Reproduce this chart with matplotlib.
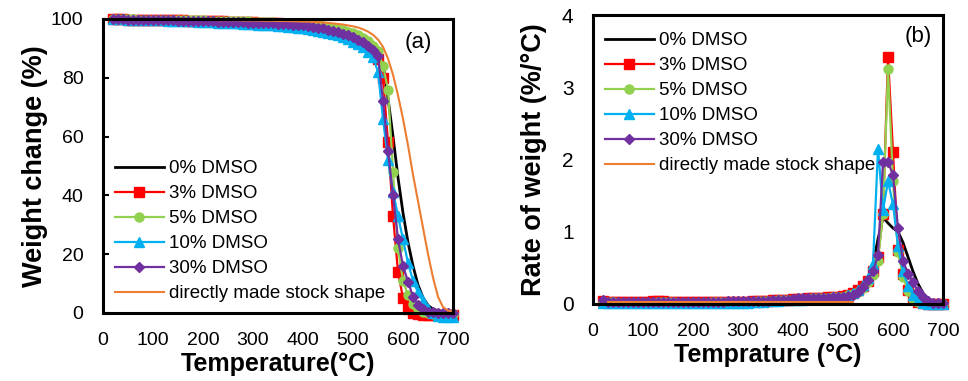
"""TGA weight loss and derivative curves for DMSO-treated samples."""

import matplotlib
matplotlib.use("Agg")
import matplotlib.pyplot as plt

plt.rcParams["font.family"] = ["Liberation Sans", "DejaVu Sans"]

# temperature grid (deg C)
temp = [20, 30, 40, 50, 60, 70, 80, 90, 100,
        110, 120, 130, 140, 150, 160, 170, 180, 190, 200,
        210, 220, 230, 240, 250, 260, 270, 280, 290, 300,
        310, 320, 330, 340, 350, 360, 370, 380, 390, 400,
        410, 420, 430, 440, 450, 460, 470, 480, 490, 500,
        510, 520, 530, 540, 550, 560, 570, 580, 590, 600,
        610, 620, 630, 640, 650, 660, 670, 680, 690, 700]
# stock-shape rate curve was only logged up to 520 deg C
temp_stock_rate = [30, 40, 50, 60, 70, 80, 90, 100,
                   110, 120, 130, 140, 150, 160, 170, 180, 190, 200,
                   210, 220, 230, 240, 250, 260, 270, 280, 290, 300,
                   310, 320, 330, 340, 350, 360, 370, 380, 390, 400,
                   410, 420, 430, 440, 450, 460, 470, 480, 490, 500,
                   510, 520]

labels = ["0% DMSO", "3% DMSO", "5% DMSO", "10% DMSO", "30% DMSO",
          "directly made stock shape"]

# (a) weight change (%)
w_0 = [100.0, 100.0, 99.9, 99.9, 99.9, 99.8, 99.8, 99.8, 99.8,
       99.7, 99.7, 99.7, 99.7, 99.6, 99.6, 99.6, 99.6, 99.5, 99.5,
       99.5, 99.5, 99.4, 99.4, 99.4, 99.3, 99.3, 99.3, 99.2, 99.2,
       99.1, 99.1, 99.0, 99.0, 98.9, 98.8, 98.8, 98.7, 98.6, 98.5,
       98.4, 98.2, 98.0, 97.8, 97.6, 97.3, 97.0, 96.6, 96.2, 95.7,
       95.1, 94.3, 93.2, 91.8, 89.5, 85.0, 73.0, 60.0, 46.0, 34.0,
       24.0, 16.0, 9.5, 5.2, 2.6, 1.3, 0.8, 0.5, 0.4, 0.3]
w_3 = [100.0, 99.9, 99.9, 99.8, 99.8, 99.8, 99.7, 99.7, 99.7,
       99.6, 99.6, 99.6, 99.5, 99.5, 99.5, 99.4, 99.4, 99.4, 99.3,
       99.3, 99.3, 99.2, 99.2, 99.1, 99.1, 99.0, 99.0, 98.9, 98.9,
       98.8, 98.7, 98.7, 98.6, 98.5, 98.4, 98.3, 98.2, 98.0, 97.9,
       97.7, 97.5, 97.2, 96.9, 96.6, 96.2, 95.7, 95.2, 94.6, 93.9,
       93.1, 92.1, 90.9, 89.2, 86.5, 80.0, 58.0, 33.0, 14.0, 5.0,
       1.5, 0.0, -0.5, -0.7, -0.7, -0.7, -0.7, -0.7, -0.7, -0.7]
w_5 = [100.0, 100.0, 99.9, 99.9, 99.9, 99.8, 99.8, 99.8, 99.7,
       99.7, 99.7, 99.7, 99.6, 99.6, 99.6, 99.6, 99.5, 99.5, 99.5,
       99.4, 99.4, 99.4, 99.4, 99.3, 99.3, 99.3, 99.2, 99.2, 99.1,
       99.1, 99.0, 99.0, 98.9, 98.8, 98.8, 98.7, 98.6, 98.5, 98.3,
       98.2, 98.0, 97.8, 97.6, 97.3, 97.0, 96.6, 96.2, 95.7, 95.1,
       94.4, 93.5, 92.4, 90.8, 89.0, 84.0, 76.0, 48.0, 22.0, 11.0,
       6.0, 3.0, 1.2, 0.4, 0.0, -0.2, -0.3, -0.3, -0.3, -0.3]
w_10 = [100.0, 99.9, 99.9, 99.8, 99.8, 99.7, 99.7, 99.6, 99.6,
        99.5, 99.5, 99.4, 99.4, 99.3, 99.3, 99.2, 99.2, 99.1, 99.0,
        99.0, 98.9, 98.8, 98.8, 98.7, 98.6, 98.5, 98.4, 98.3, 98.2,
        98.1, 98.0, 97.9, 97.8, 97.6, 97.5, 97.3, 97.2, 97.0, 96.8,
        96.6, 96.3, 96.0, 95.7, 95.3, 94.9, 94.4, 93.8, 93.1, 92.3,
        91.4, 90.3, 88.9, 87.0, 82.0, 66.0, 52.0, 41.0, 33.0, 25.0,
        17.0, 11.0, 7.0, 4.0, 1.5, 0.0, -1.0, -1.5, -1.5, -1.5]
w_30 = [100.0, 99.9, 99.9, 99.8, 99.8, 99.7, 99.7, 99.7, 99.6,
        99.6, 99.5, 99.5, 99.5, 99.4, 99.4, 99.4, 99.3, 99.3, 99.2,
        99.2, 99.2, 99.1, 99.1, 99.0, 99.0, 98.9, 98.9, 98.8, 98.8,
        98.7, 98.6, 98.6, 98.5, 98.4, 98.3, 98.2, 98.1, 98.0, 97.8,
        97.6, 97.4, 97.1, 96.8, 96.4, 96.0, 95.5, 95.0, 94.4, 93.7,
        92.9, 92.0, 90.8, 89.5, 87.5, 72.0, 55.0, 40.0, 25.0, 16.0,
        10.7, 5.5, 2.8, 1.3, 0.5, 0.2, 0.1, 0.0, 0.0, 0.0]
w_stock = [100.0, 100.0, 100.0, 99.9, 99.9, 99.9, 99.9, 99.9, 99.9,
           99.8, 99.8, 99.8, 99.8, 99.8, 99.8, 99.7, 99.7, 99.7, 99.7,
           99.7, 99.7, 99.6, 99.6, 99.6, 99.6, 99.6, 99.5, 99.5, 99.5,
           99.5, 99.4, 99.4, 99.4, 99.3, 99.3, 99.3, 99.2, 99.2, 99.1,
           99.1, 99.0, 98.9, 98.8, 98.7, 98.5, 98.3, 98.1, 97.8, 97.5,
           97.1, 96.5, 95.7, 94.6, 93.0, 90.5, 86.5, 81.0, 74.0, 66.0,
           57.0, 47.0, 38.0, 29.0, 20.0, 12.0, 5.5, 2.0, 0.8, 0.5]

# (b) rate of weight loss (%/deg C)
r_0 = [0.03, 0.02, 0.02, 0.02, 0.02, 0.02, 0.02, 0.02, 0.02,
       0.02, 0.02, 0.02, 0.02, 0.02, 0.02, 0.02, 0.02, 0.02, 0.02,
       0.02, 0.02, 0.02, 0.03, 0.03, 0.03, 0.03, 0.03, 0.03, 0.03,
       0.03, 0.03, 0.03, 0.04, 0.04, 0.04, 0.05, 0.05, 0.05, 0.06,
       0.06, 0.06, 0.07, 0.07, 0.07, 0.08, 0.08, 0.09, 0.10, 0.11,
       0.12, 0.14, 0.17, 0.22, 0.30, 0.55, 0.90, 1.20, 1.12, 1.05,
       1.00, 0.85, 0.65, 0.45, 0.28, 0.15, 0.06, 0.00, 0.00, 0.00]
r_3 = [0.04, 0.03, 0.03, 0.03, 0.03, 0.03, 0.03, 0.03, 0.03,
       0.03, 0.04, 0.04, 0.04, 0.03, 0.03, 0.03, 0.03, 0.03, 0.03,
       0.03, 0.03, 0.03, 0.03, 0.03, 0.03, 0.03, 0.03, 0.03, 0.03,
       0.03, 0.04, 0.04, 0.04, 0.04, 0.05, 0.05, 0.05, 0.06, 0.07,
       0.07, 0.07, 0.08, 0.08, 0.08, 0.08, 0.09, 0.09, 0.10, 0.11,
       0.13, 0.15, 0.19, 0.25, 0.32, 0.45, 0.65, 1.25, 3.42, 2.10,
       0.75, 0.42, 0.20, 0.08, 0.03, 0.01, 0.00, 0.00, 0.00, 0.00]
r_5 = [0.03, 0.03, 0.03, 0.02, 0.02, 0.02, 0.02, 0.02, 0.02,
       0.02, 0.02, 0.03, 0.03, 0.03, 0.03, 0.02, 0.02, 0.02, 0.02,
       0.02, 0.02, 0.02, 0.03, 0.03, 0.03, 0.03, 0.03, 0.03, 0.03,
       0.03, 0.03, 0.04, 0.04, 0.04, 0.04, 0.05, 0.05, 0.06, 0.06,
       0.07, 0.07, 0.07, 0.08, 0.08, 0.08, 0.08, 0.09, 0.10, 0.10,
       0.12, 0.14, 0.17, 0.22, 0.30, 0.40, 0.60, 1.25, 3.25, 1.70,
       0.72, 0.38, 0.18, 0.07, 0.03, 0.01, 0.00, 0.00, 0.00, 0.00]
r_10 = [0.02, 0.01, 0.01, 0.01, 0.01, 0.01, 0.01, 0.01, 0.01,
        0.01, 0.01, 0.01, 0.01, 0.01, 0.01, 0.01, 0.01, 0.01, 0.01,
        0.01, 0.01, 0.02, 0.02, 0.02, 0.02, 0.02, 0.02, 0.02, 0.02,
        0.02, 0.03, 0.03, 0.03, 0.04, 0.04, 0.04, 0.05, 0.05, 0.06,
        0.06, 0.06, 0.07, 0.07, 0.07, 0.08, 0.08, 0.09, 0.09, 0.10,
        0.12, 0.15, 0.19, 0.26, 0.36, 0.56, 2.15, 1.30, 1.70, 1.38,
        0.80, 0.45, 0.25, 0.12, 0.05, 0.02, 0.00, 0.00, 0.00, 0.00]
r_30 = [0.05, 0.03, 0.03, 0.03, 0.03, 0.03, 0.03, 0.03, 0.03,
        0.03, 0.03, 0.03, 0.03, 0.03, 0.03, 0.03, 0.03, 0.03, 0.03,
        0.03, 0.03, 0.03, 0.03, 0.03, 0.03, 0.04, 0.04, 0.04, 0.04,
        0.04, 0.04, 0.04, 0.04, 0.04, 0.05, 0.05, 0.05, 0.06, 0.07,
        0.08, 0.08, 0.08, 0.08, 0.08, 0.08, 0.08, 0.09, 0.09, 0.10,
        0.11, 0.13, 0.17, 0.24, 0.33, 0.45, 0.68, 1.97, 1.97, 1.78,
        1.05, 0.60, 0.42, 0.30, 0.18, 0.09, 0.04, 0.02, 0.01, 0.01]
r_stock = [0.03, 0.03, 0.03, 0.03, 0.03, 0.03, 0.03, 0.03,
           0.03, 0.03, 0.03, 0.03, 0.03, 0.03, 0.03, 0.03, 0.03, 0.03,
           0.03, 0.03, 0.03, 0.03, 0.03, 0.03, 0.03, 0.03, 0.03, 0.03,
           0.03, 0.03, 0.03, 0.03, 0.03, 0.03, 0.03, 0.03, 0.03, 0.03,
           0.03, 0.03, 0.03, 0.03, 0.03, 0.03, 0.03, 0.03, 0.03, 0.03,
           0.03, 0.03]

colors = ["#000000", "#FF0000", "#92D050", "#00B0F0", "#7030A0", "#ED7D31"]
markers = [None, "s", "o", "^", "D", None]
msizes = [0, 6.5, 6.5, 7.5, 5.5, 0]
lwidths = [2.0, 1.6, 1.6, 1.6, 1.6, 1.5]


def _draw(ax, xs, series, anchor):
    for x, y, lab, c, m, ms, lw in zip(xs, series, labels, colors, markers, msizes, lwidths):
        ax.plot(x, y, color=c, marker=m, markersize=ms, markeredgecolor=c,
                linewidth=lw, label=lab, clip_on=False)
    for s in ax.spines.values():
        s.set_linewidth(2.2)
    ax.set_xlim(0, 700)
    ax.set_xticks([0, 100, 200, 300, 400, 500, 600, 700])
    ax.tick_params(axis="x", length=0, pad=14, labelsize=14)
    ax.legend(loc="upper left", frameon=False, fontsize=13.5, handlelength=2.6,
              handletextpad=0.3, labelspacing=0.42, borderpad=0, borderaxespad=0,
              bbox_to_anchor=anchor)


fig = plt.figure(figsize=(9.68, 3.81), dpi=100)
ax_a = fig.add_axes([0.1064, 0.1785, 0.3616, 0.7717])
ax_b = fig.add_axes([0.6126, 0.2021, 0.3616, 0.7585])

_draw(ax_a, [temp] * 6, [w_0, w_3, w_5, w_10, w_30, w_stock], (0.034, 0.52))
ax_a.set_ylim(0, 100)
ax_a.set_yticks([0, 20, 40, 60, 80, 100])
ax_a.tick_params(axis="y", direction="in", length=4, width=1.5, labelsize=14, pad=14)
ax_a.set_ylabel("Weight change (%)", fontsize=19.5, fontweight="bold", labelpad=2)
ax_a.set_xlabel("Temperature(°C)", fontsize=18, fontweight="bold", labelpad=2)
ax_a.text(0.9, 0.92, "(a)", transform=ax_a.transAxes, fontsize=16,
          ha="center", va="center")

_draw(ax_b, [temp] * 5 + [temp_stock_rate],
      [r_0, r_3, r_5, r_10, r_30, r_stock], (0.034, 0.94))
ax_b.set_ylim(0, 4)
ax_b.set_yticks([0, 1, 2, 3, 4])
ax_b.tick_params(axis="y", length=0, labelsize=15, pad=14)
ax_b.set_ylabel("Rate of weight (%/°C)", fontsize=19.5, fontweight="bold", labelpad=11)
ax_b.set_xlabel("Temprature (°C)", fontsize=18, fontweight="bold", labelpad=2)
ax_b.text(0.929, 0.924, "(b)", transform=ax_b.transAxes, fontsize=16,
          ha="center", va="center")

fig.savefig("out.png", dpi=100)
